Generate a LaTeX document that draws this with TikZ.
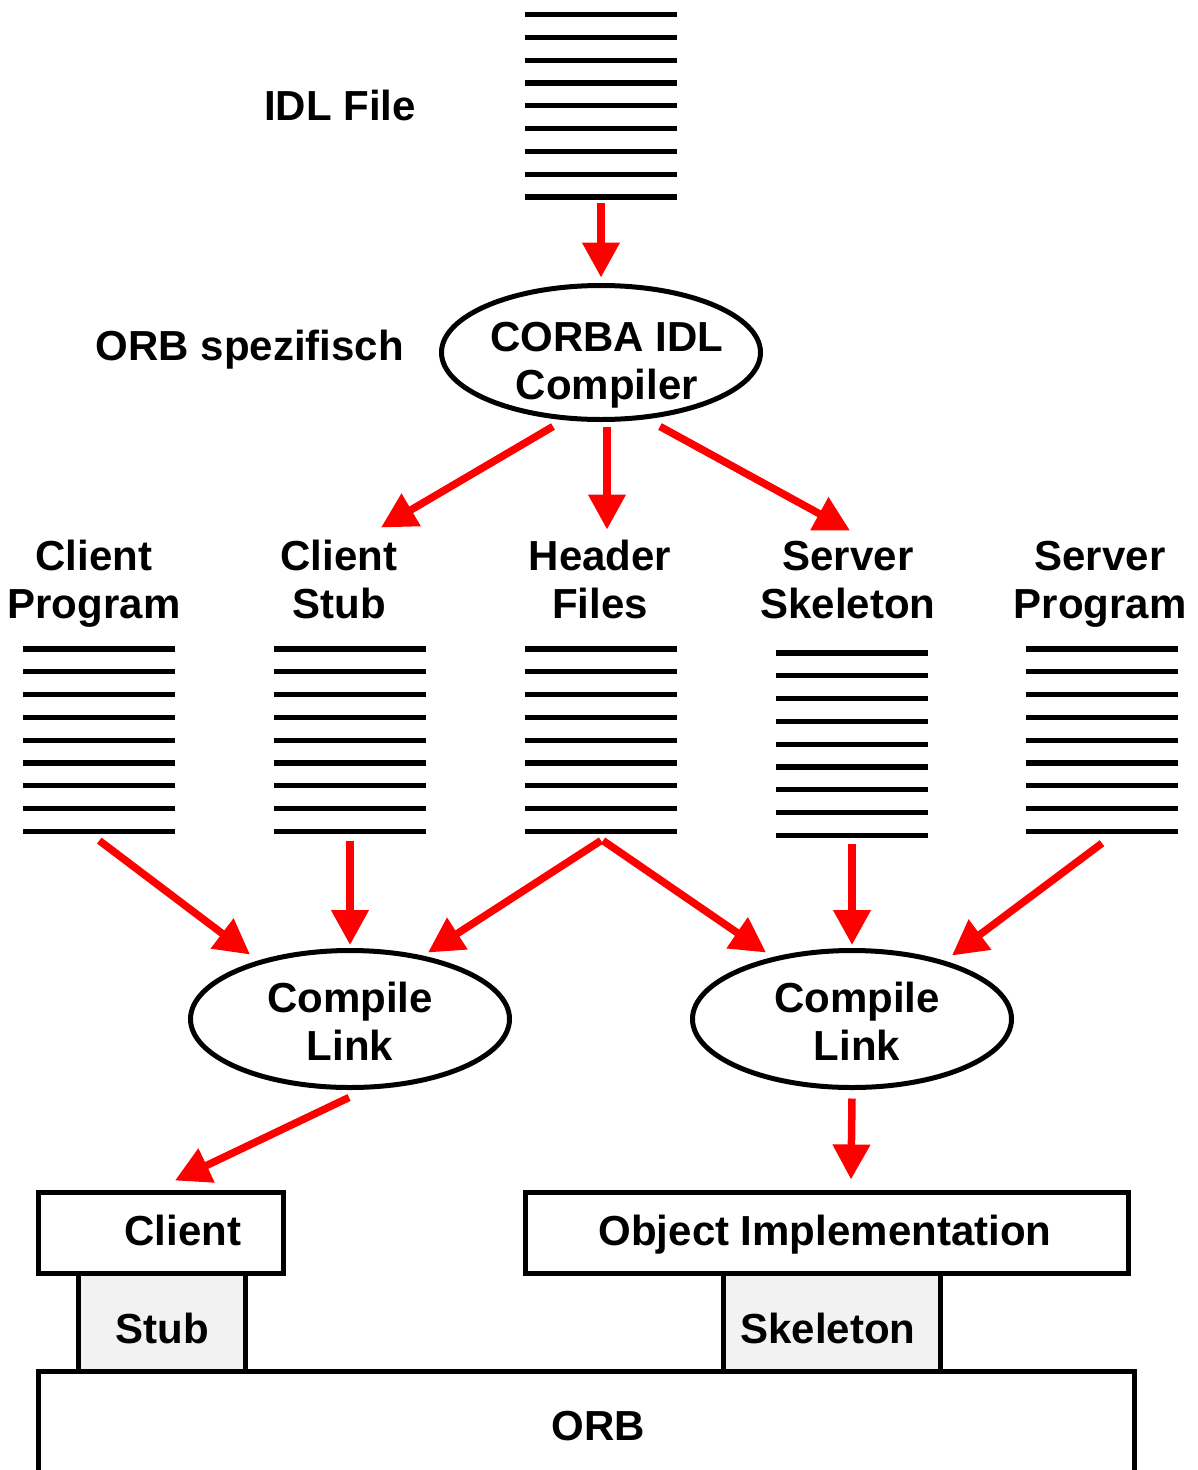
\documentclass[tikz,border=0pt]{standalone}
\usepackage{fontspec}
\setmainfont{Liberation Sans}
\usetikzlibrary{arrows.meta,calc,shapes.geometric}
\definecolor{arrred}{RGB}{255,0,0}
\definecolor{boxgray}{RGB}{242,242,242}
\tikzset{
 lbl/.style={font=\fontsize{42}{48}\selectfont\bfseries, align=center, inner sep=0pt, anchor=base},
 arr/.style={draw=arrred, line width=7.5pt, -{Triangle[length=35pt,width=36pt]}},
 stack/.style={minimum width=152pt, minimum height=188pt, inner sep=0pt},
 oval/.style={ellipse, draw, line width=5pt, minimum width=319pt, inner sep=0pt},
 boxn/.style={rectangle, draw, line width=5pt, inner sep=0pt},
}
\newcommand\drawstack[1]{\foreach \i in {0,...,8}{\draw[line width=5.2pt] ($(#1.north west)+(0,2.7+\i*22.82)$) -- ++(152,0);}}
\begin{document}
\begin{tikzpicture}[x=1pt,y=-1pt]
\useasboundingbox (0,0) rectangle (1197,1470);
% document stacks
\node[stack] (idl) at (601,106) {};
\node[stack] (cprog) at (99.3,740.4) {};
\node[stack] (cstub) at (350,740.4) {};
\node[stack] (hdr) at (601,740.4) {};
\node[stack] (sskel) at (852,744.4) {};
\node[stack] (sprog) at (1102,740.4) {};
\drawstack{idl}
\drawstack{cprog}
\drawstack{cstub}
\drawstack{hdr}
\drawstack{sskel}
\drawstack{sprog}
% labels
\node[lbl] (lidl) at (340,120) {IDL File};
\node[lbl] (lorb) at (250,360) {ORB spezifisch};
\node[lbl] (lcprog) at (94,618) {Client\\Program};
\node[lbl] (lcstub) at (339,618) {Client\\Stub};
\node[lbl] (lhdr) at (600,618) {Header\\Files};
\node[lbl] (lsskel) at (848,618) {Server\\Skeleton};
\node[lbl] (lsprog) at (1100,618) {Server\\Program};
% ellipses
\node[oval, minimum height=134pt] (comp) at (601,352.5) {};
\node[lbl] (compt) at (607,399) {CORBA IDL\\Compiler};
\node[oval, minimum height=137pt] (clL) at (350,1019) {};
\node[lbl] (clLt) at (350,1060) {Compile\\Link};
\node[oval, minimum height=137pt] (clR) at (852,1019) {};
\node[lbl] (clRt) at (857,1060) {Compile\\Link};
% boxes
\node[boxn, minimum width=245pt, minimum height=81pt] (client) at (160.5,1232.5) {};
\node[boxn, minimum width=1096pt, minimum height=129pt] (orb) at (586,1435.5) {};
\node[boxn, fill=boxgray, minimum width=167pt, minimum height=98pt] (stub) at (161.5,1322) {};
\node[boxn, minimum width=603pt, minimum height=81pt] (objimpl) at (826.5,1232.5) {};
\node[boxn, fill=boxgray, minimum width=217pt, minimum height=98pt] (skel) at (831.5,1322) {};
\node[lbl] (clientt) at (183,1245) {Client};
\node[lbl] (stubt) at (162,1343) {Stub};
\node[lbl] (objimplt) at (825,1245) {Object Implementation};
\node[lbl] (skelt) at (828,1343) {Skeleton};
\node[lbl] (orbt) at (598,1440) {ORB};
% arrows
\draw[arr] ($(idl.south)+(0,3)$) -- ($(comp.north)+(0,-5.5)$);
\draw[arr] ($(comp.south)+(-48,4.5)$) -- ($(comp.south)+(-220,105.5)$);
\draw[arr] ($(comp.south)+(6,4.5)$) -- ($(comp.south)+(6,107.5)$);
\draw[arr] ($(comp.south)+(59,4.5)$) -- ($(comp.south)+(249,108.5)$);
\draw[arr] ($(cprog.south)+(0,6)$) -- ($(clL.north)+(-100,6.5)$);
\draw[arr] ($(cstub.south)+(0,6)$) -- ($(clL.north)+(0,-3)$);
\draw[arr] ($(hdr.south)+(0,6)$) -- ($(clL.north)+(78,4.5)$);
\draw[arr] ($(hdr.south)+(2,6)$) -- ($(clR.north)+(-86,4.5)$);
\draw[arr] ($(sskel.south)+(0,5)$) -- ($(clR.north)+(0,-3)$);
\draw[arr] ($(sprog.south)+(0,8.6)$) -- ($(clR.north)+(100,7.5)$);
\draw[arr] ($(clL.south)+(-1,7.5)$) -- ($(client.north)+(14.5,-9)$);
\draw[arr] ($(clR.south)+(0,8.5)$) -- ($(objimpl.north)+(24.5,-10)$);
\end{tikzpicture}
\end{document}
